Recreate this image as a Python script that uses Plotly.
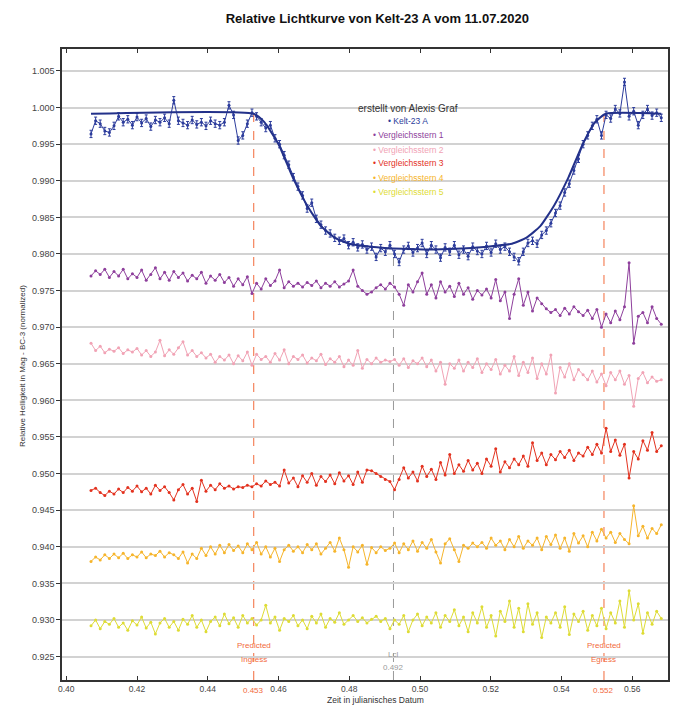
import plotly.graph_objects as go
import numpy as np

# ---------------- data ----------------
time = [0.4070, 0.4083, 0.4096, 0.4109, 0.4122, 0.4135, 0.4148, 0.4161, 0.4174, 0.4187,
        0.4200, 0.4213, 0.4226, 0.4239, 0.4252, 0.4265, 0.4278, 0.4291, 0.4304, 0.4317,
        0.4330, 0.4343, 0.4356, 0.4369, 0.4382, 0.4395, 0.4408, 0.4421, 0.4434, 0.4447,
        0.4460, 0.4473, 0.4486, 0.4499, 0.4512, 0.4525, 0.4538, 0.4551, 0.4564, 0.4577,
        0.4590, 0.4603, 0.4616, 0.4629, 0.4642, 0.4655, 0.4668, 0.4681, 0.4694, 0.4707,
        0.4720, 0.4733, 0.4746, 0.4759, 0.4772, 0.4785, 0.4798, 0.4811, 0.4824, 0.4837,
        0.4850, 0.4863, 0.4876, 0.4889, 0.4902, 0.4915, 0.4928, 0.4941, 0.4954, 0.4967,
        0.4980, 0.4993, 0.5006, 0.5019, 0.5032, 0.5045, 0.5058, 0.5071, 0.5084, 0.5097,
        0.5110, 0.5123, 0.5136, 0.5149, 0.5162, 0.5175, 0.5188, 0.5201, 0.5214, 0.5227,
        0.5240, 0.5253, 0.5266, 0.5279, 0.5292, 0.5305, 0.5318, 0.5331, 0.5344, 0.5357,
        0.5370, 0.5383, 0.5396, 0.5409, 0.5422, 0.5435, 0.5448, 0.5461, 0.5474, 0.5487,
        0.5500, 0.5513, 0.5526, 0.5539, 0.5552, 0.5565, 0.5578, 0.5591, 0.5604, 0.5617,
        0.5630, 0.5643, 0.5656, 0.5669, 0.5682]

kelt23a = [0.9964, 0.9982, 0.9978, 0.9968, 0.9966, 0.9975, 0.9988, 0.9980, 0.9984, 0.9976,
           0.9987, 0.9979, 0.9985, 0.9974, 0.9983, 0.9980, 0.9986, 0.9978, 1.0010, 0.9982,
           0.9979, 0.9976, 0.9983, 0.9977, 0.9980, 0.9975, 0.9982, 0.9978, 0.9976, 0.9980,
           1.0003, 0.9990, 0.9955, 0.9962, 0.9978, 0.9993, 0.9988, 0.9980, 0.9972, 0.9976,
           0.9958, 0.9950, 0.9935, 0.9922, 0.9905, 0.9892, 0.9880, 0.9862, 0.9870, 0.9848,
           0.9840, 0.9832, 0.9828, 0.9822, 0.9818, 0.9821, 0.9812, 0.9816, 0.9809, 0.9813,
           0.9806, 0.9810, 0.9796, 0.9808, 0.9803, 0.9812, 0.9800, 0.9789, 0.9806, 0.9811,
           0.9802, 0.9808, 0.9815, 0.9800, 0.9812, 0.9806, 0.9795, 0.9809, 0.9803, 0.9812,
           0.9799, 0.9806, 0.9797, 0.9810, 0.9804, 0.9800, 0.9811, 0.9802, 0.9814, 0.9806,
           0.9810, 0.9803, 0.9796, 0.9790, 0.9803, 0.9815, 0.9818, 0.9814, 0.9826, 0.9832,
           0.9842, 0.9856, 0.9866, 0.9884, 0.9896, 0.9914, 0.9930, 0.9950, 0.9962, 0.9975,
           0.9984, 0.9962, 0.9990, 0.9985, 0.9998, 0.9992, 1.0035, 0.9988, 0.9995, 0.9976,
           0.9990, 0.9998, 0.9989, 0.9993, 0.9986]

vgl1 = [0.9770, 0.9777, 0.9772, 0.9779, 0.9768, 0.9776, 0.9770, 0.9779, 0.9766, 0.9773,
        0.9768, 0.9778, 0.9764, 0.9772, 0.9781, 0.9766, 0.9775, 0.9764, 0.9776, 0.9768,
        0.9774, 0.9763, 0.9771, 0.9766, 0.9775, 0.9760, 0.9770, 0.9764, 0.9772, 0.9761,
        0.9768, 0.9756, 0.9766, 0.9758, 0.9769, 0.9746, 0.9760, 0.9752, 0.9766, 0.9757,
        0.9763, 0.9778, 0.9754, 0.9762, 0.9756, 0.9760, 0.9755, 0.9761, 0.9757, 0.9763,
        0.9754, 0.9760, 0.9756, 0.9762, 0.9755, 0.9759, 0.9763, 0.9778, 0.9756, 0.9750,
        0.9745, 0.9748, 0.9754, 0.9758, 0.9752, 0.9760, 0.9755, 0.9745, 0.9730, 0.9758,
        0.9748, 0.9762, 0.9774, 0.9745, 0.9758, 0.9740, 0.9762, 0.9748, 0.9756, 0.9742,
        0.9760, 0.9745, 0.9754, 0.9738, 0.9750, 0.9744, 0.9752, 0.9740, 0.9765, 0.9736,
        0.9748, 0.9712, 0.9745, 0.9766, 0.9730, 0.9748, 0.9722, 0.9740, 0.9732, 0.9725,
        0.9720, 0.9724, 0.9716, 0.9726, 0.9718, 0.9728, 0.9721, 0.9716, 0.9723, 0.9712,
        0.9724, 0.9700, 0.9718, 0.9706, 0.9722, 0.9710, 0.9728, 0.9788, 0.9678, 0.9715,
        0.9720, 0.9706, 0.9728, 0.9712, 0.9704]

vgl2 = [0.9678, 0.9668, 0.9674, 0.9665, 0.9670, 0.9667, 0.9672, 0.9664, 0.9669, 0.9666,
        0.9671, 0.9662, 0.9668, 0.9660, 0.9666, 0.9682, 0.9661, 0.9669, 0.9663, 0.9672,
        0.9680, 0.9662, 0.9668, 0.9660, 0.9665, 0.9658, 0.9663, 0.9652, 0.9660, 0.9655,
        0.9662, 0.9650, 0.9661, 0.9654, 0.9666, 0.9648, 0.9663, 0.9656, 0.9660, 0.9652,
        0.9664, 0.9655, 0.9669, 0.9650, 0.9660, 0.9656, 0.9662, 0.9651, 0.9658, 0.9654,
        0.9663, 0.9649, 0.9657, 0.9652, 0.9660, 0.9646, 0.9655, 0.9648, 0.9668, 0.9644,
        0.9656, 0.9650, 0.9658, 0.9652, 0.9655, 0.9653, 0.9656, 0.9648, 0.9657, 0.9645,
        0.9654, 0.9650, 0.9658, 0.9646, 0.9655, 0.9640, 0.9652, 0.9622, 0.9650, 0.9644,
        0.9655, 0.9640, 0.9652, 0.9645, 0.9657, 0.9638, 0.9650, 0.9642, 0.9656, 0.9636,
        0.9648, 0.9640, 0.9660, 0.9634, 0.9652, 0.9638, 0.9658, 0.9630, 0.9650, 0.9636,
        0.9662, 0.9610, 0.9645, 0.9632, 0.9650, 0.9628, 0.9642, 0.9635, 0.9628, 0.9640,
        0.9625, 0.9636, 0.9620, 0.9638, 0.9628, 0.9640, 0.9622, 0.9634, 0.9592, 0.9630,
        0.9638, 0.9624, 0.9632, 0.9626, 0.9628]

vgl3 = [0.9477, 0.9480, 0.9474, 0.9470, 0.9476, 0.9472, 0.9479, 0.9474, 0.9481, 0.9476,
        0.9483, 0.9475, 0.9480, 0.9472, 0.9484, 0.9477, 0.9482, 0.9474, 0.9464, 0.9478,
        0.9485, 0.9472, 0.9480, 0.9462, 0.9491, 0.9476, 0.9484, 0.9478, 0.9486, 0.9480,
        0.9483, 0.9479, 0.9482, 0.9481, 0.9484, 0.9482, 0.9486, 0.9483, 0.9490, 0.9485,
        0.9488, 0.9483, 0.9505, 0.9487, 0.9494, 0.9482, 0.9497, 0.9488, 0.9500, 0.9484,
        0.9496, 0.9489, 0.9498, 0.9486, 0.9501, 0.9490, 0.9497, 0.9485, 0.9502, 0.9488,
        0.9505, 0.9504, 0.9500, 0.9496, 0.9492, 0.9489, 0.9478, 0.9492, 0.9508, 0.9494,
        0.9502, 0.9490, 0.9510, 0.9496, 0.9506, 0.9492, 0.9515, 0.9498, 0.9526, 0.9500,
        0.9512, 0.9503, 0.9518, 0.9505, 0.9514, 0.9500, 0.9520, 0.9510, 0.9534, 0.9502,
        0.9516, 0.9508, 0.9520, 0.9512, 0.9524, 0.9510, 0.9542, 0.9518, 0.9528, 0.9512,
        0.9526, 0.9519, 0.9530, 0.9522, 0.9532, 0.9518, 0.9528, 0.9524, 0.9536, 0.9526,
        0.9540, 0.9528, 0.9562, 0.9530, 0.9546, 0.9525, 0.9540, 0.9494, 0.9530, 0.9520,
        0.9545, 0.9532, 0.9556, 0.9530, 0.9538]

vgl4 = [0.9380, 0.9386, 0.9382, 0.9389, 0.9384, 0.9390, 0.9385, 0.9391, 0.9384, 0.9389,
        0.9386, 0.9393, 0.9385, 0.9390, 0.9388, 0.9394, 0.9386, 0.9392, 0.9389, 0.9384,
        0.9393, 0.9378, 0.9390, 0.9384, 0.9398, 0.9388, 0.9400, 0.9390, 0.9402, 0.9392,
        0.9403, 0.9395, 0.9401, 0.9392, 0.9404, 0.9396, 0.9406, 0.9390, 0.9400, 0.9386,
        0.9398, 0.9380, 0.9396, 0.9402, 0.9394, 0.9400, 0.9392, 0.9403, 0.9396, 0.9404,
        0.9390, 0.9398, 0.9406, 0.9394, 0.9412, 0.9396, 0.9372, 0.9400, 0.9393, 0.9402,
        0.9376, 0.9399, 0.9392, 0.9400, 0.9395, 0.9398, 0.9405, 0.9392, 0.9404, 0.9396,
        0.9408, 0.9394, 0.9406, 0.9398, 0.9410, 0.9393, 0.9378, 0.9404, 0.9411, 0.9396,
        0.9380, 0.9402, 0.9398, 0.9405, 0.9400, 0.9406, 0.9398, 0.9412, 0.9402, 0.9408,
        0.9396, 0.9410, 0.9400, 0.9414, 0.9398, 0.9408, 0.9402, 0.9412, 0.9396, 0.9414,
        0.9403, 0.9416, 0.9398, 0.9412, 0.9394, 0.9418, 0.9405, 0.9415, 0.9400, 0.9420,
        0.9408, 0.9424, 0.9412, 0.9420, 0.9406, 0.9418, 0.9410, 0.9404, 0.9456, 0.9415,
        0.9428, 0.9412, 0.9425, 0.9418, 0.9430]

vgl5 = [0.9292, 0.9300, 0.9288, 0.9298, 0.9294, 0.9302, 0.9290, 0.9296, 0.9286, 0.9299,
        0.9293, 0.9304, 0.9289, 0.9297, 0.9281, 0.9296, 0.9302, 0.9290, 0.9298, 0.9286,
        0.9301, 0.9294, 0.9306, 0.9290, 0.9300, 0.9284, 0.9298, 0.9304, 0.9292, 0.9308,
        0.9295, 0.9303, 0.9290, 0.9306, 0.9296, 0.9302, 0.9293, 0.9300, 0.9320, 0.9296,
        0.9304, 0.9286, 0.9302, 0.9298, 0.9306, 0.9292, 0.9300, 0.9288, 0.9305, 0.9296,
        0.9308, 0.9290, 0.9302, 0.9297, 0.9310, 0.9294, 0.9300, 0.9306, 0.9298, 0.9303,
        0.9296, 0.9301, 0.9305, 0.9298, 0.9302, 0.9288, 0.9300, 0.9294, 0.9306, 0.9284,
        0.9300, 0.9308, 0.9292, 0.9304, 0.9296, 0.9310, 0.9290, 0.9306, 0.9298, 0.9314,
        0.9292, 0.9304, 0.9284, 0.9310, 0.9296, 0.9318, 0.9290, 0.9306, 0.9278, 0.9312,
        0.9298, 0.9326, 0.9290, 0.9316, 0.9284, 0.9322, 0.9294, 0.9310, 0.9276, 0.9304,
        0.9296, 0.9310, 0.9290, 0.9318, 0.9280, 0.9308, 0.9298, 0.9312, 0.9286, 0.9306,
        0.9292, 0.9316, 0.9288, 0.9310, 0.9296, 0.9326, 0.9290, 0.9340, 0.9300, 0.9322,
        0.9282, 0.9310, 0.9294, 0.9312, 0.9302]

fit_time = [0.4070, 0.4530, 0.4560, 0.4600, 0.4640, 0.4680, 0.4720, 0.4760, 0.4800, 0.4860,
            0.4950, 0.5025, 0.5100, 0.5190, 0.5260, 0.5300, 0.5340, 0.5380, 0.5420, 0.5460,
            0.5495, 0.5525, 0.5682]
fit_value = [0.99915, 0.99915, 0.9980, 0.9950, 0.9905, 0.9867, 0.9838, 0.9822, 0.9814, 0.9810,
             0.9807, 0.9806, 0.9807, 0.9810, 0.9814, 0.9822, 0.9838, 0.9867, 0.9905, 0.9950,
             0.9980, 0.99915, 0.99915]

event_time = [0.453, 0.4925, 0.552]
event_label_top = [["Predicted", "Ingress"], ["Lcl"], ["Predicted", "Egress"]]
event_label_value = ["0.453", "0.492", "0.552"]

series_names = ["Kelt-23 A", "Vergleichsstern 1", "Vergleichsstern 2",
                "Vergleichsstern 3", "Vergleichsstern 4", "Vergleichsstern 5"]
x_ticks = [0.40, 0.42, 0.44, 0.46, 0.48, 0.50, 0.52, 0.54, 0.56]

# ---------------- style ----------------
colors = ["#2c3c9c", "#8e3f9c", "#f1a3b5", "#e3321f", "#f6b52c", "#dedc35"]
event_colors = ["#f26a3c", "#9a9a9a", "#f26a3c"]
FONT = "Liberation Sans, Arial, sans-serif"

# plot area in pixels
W, H = 700, 706
L, R, T, B = 62, 32, 49, 26
PW, PH = W - L - R, H - T - B
XR = [0.3988, 0.5701]
YR = [0.9218, 1.0080]


def py(ypx):
    return 1 - (ypx - T) / PH


def px(xpx):
    return (xpx - L) / PW


fig = go.Figure()

# comparison stars
series = [vgl1, vgl2, vgl3, vgl4, vgl5]
for vals, col, name in zip(series, colors[1:], series_names[1:]):
    fig.add_trace(go.Scatter(x=time, y=vals, mode="lines+markers", name=name,
                             line=dict(color=col, width=1),
                             marker=dict(color=col, size=3), showlegend=False))

# target with error bars
fig.add_trace(go.Scatter(x=time, y=kelt23a, mode="lines+markers", name=series_names[0],
                         line=dict(color=colors[0], width=1),
                         marker=dict(color=colors[0], size=3),
                         error_y=dict(type="constant", value=0.0005, color=colors[0],
                                      thickness=1, width=1.5),
                         showlegend=False))
# model fit
fig.add_trace(go.Scatter(x=fit_time, y=fit_value, mode="lines",
                         line=dict(color="#23318a", width=2, shape="spline", smoothing=0.5),
                         showlegend=False, hoverinfo="skip"))

# event lines
for t, col in zip(event_time, event_colors):
    top = float(np.interp(t, fit_time, fit_value))
    fig.add_shape(type="line", xref="x", yref="y", x0=t, x1=t, y0=YR[0], y1=top,
                  line=dict(color=col, width=1, dash="dash"), layer="below")

annotations = []
# event labels
for t, col, tops, val in zip(event_time, event_colors, event_label_top, event_label_value):
    if len(tops) == 2:
        ys = [645, 659]
        vy = 690
    else:
        ys = [654]
        vy = 667
    for txt, yy in zip(tops, ys):
        annotations.append(dict(x=t, xref="x", y=py(yy), yref="paper", text=txt,
                                showarrow=False, font=dict(family=FONT, size=8, color=col),
                                xanchor="center", yanchor="middle"))
    annotations.append(dict(x=t, xref="x", y=py(vy), yref="paper", text=val,
                            showarrow=False, font=dict(family=FONT, size=8, color=col),
                            xanchor="center", yanchor="middle"))

# legend-like text block
annotations.append(dict(x=px(408), y=py(109), xref="paper", yref="paper",
                        text="erstellt von Alexis Graf", showarrow=False,
                        font=dict(family=FONT, size=10, color="#333333"),
                        xanchor="center", yanchor="middle"))
leg_y = [121, 135, 149.5, 163.5, 178, 192]
for name, col, yy in zip(series_names, colors, leg_y):
    annotations.append(dict(x=px(408), y=py(yy), xref="paper", yref="paper",
                            text="\u2022 " + name, showarrow=False,
                            font=dict(family=FONT, size=8.5, color=col),
                            xanchor="center", yanchor="middle"))

# axis titles
annotations.append(dict(x=px(375), y=py(699.5), xref="paper", yref="paper",
                        text="Zeit in julianisches Datum", showarrow=False,
                        font=dict(family=FONT, size=8.5, color="#333333"),
                        xanchor="center", yanchor="middle"))
annotations.append(dict(x=px(22), y=py(366), xref="paper", yref="paper",
                        text="Relative Helligkeit in Mag - BC-3 (normalized)", showarrow=False,
                        textangle=-90,
                        font=dict(family=FONT, size=8, color="#333333"),
                        xanchor="center", yanchor="middle"))

fig.update_layout(
    width=W, height=H,
    margin=dict(l=L, r=R, t=T, b=B, autoexpand=False),
    paper_bgcolor="white", plot_bgcolor="white",
    title=dict(text="<b>Relative Lichtkurve von Kelt-23 A vom 11.07.2020</b>",
               x=0.539, xanchor="center", y=1 - 18 / H, yanchor="middle",
               font=dict(family=FONT, size=13, color="#111111")),
    annotations=annotations,
    showlegend=False,
    xaxis=dict(range=XR, tickvals=x_ticks, tickformat=".2f", showgrid=False,
               zeroline=False, showline=True, linecolor="#333333", linewidth=1.5,
               mirror="ticks", ticks="inside", ticklen=4, tickcolor="#333333",
               tickfont=dict(family=FONT, size=8.5, color="#444444"), automargin=False),
    yaxis=dict(range=YR, dtick=0.005, tick0=0.925, tickformat=".3f", showgrid=True,
               gridcolor="#d2d2d2", gridwidth=1.5, zeroline=False, showline=True,
               linecolor="#333333", linewidth=1.5, mirror=True, ticks="outside",
               ticklen=4, tickcolor="#333333",
               tickfont=dict(family=FONT, size=9, color="#444444"), automargin=False),
)

fig.write_html("out.html", config={"displayModeBar": False},
               post_script="document.body.style.margin='0';document.body.style.overflow='hidden';")
